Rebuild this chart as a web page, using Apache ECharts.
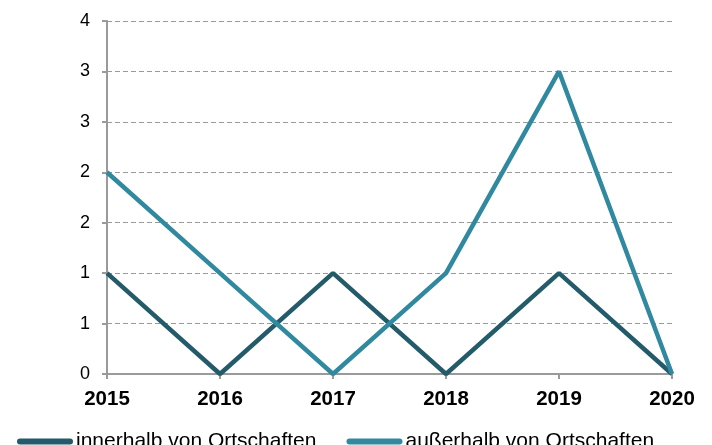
<!DOCTYPE html>
<html>
<head>
<meta charset="utf-8">
<script src="https://cdn.jsdelivr.net/npm/echarts@6/dist/echarts.min.js"></script>
<style>
  html, body { margin: 0; padding: 0; background: #fff; }
  #chart { width: 712px; height: 445px; }
</style>
</head>
<body>
<div id="chart"></div>
<script>
const years = ['2015', '2016', '2017', '2018', '2019', '2020']
const innerhalb = [1, 0, 1, 0, 1, 0]
const ausserhalb = [2, 1, 0, 1, 3, 0]

const chart = echarts.init(document.getElementById('chart'))

// capsule shaped legend marker
const capsule = 'path://M3,0 L53,0 A3,3 0 0 1 53,6 L3,6 A3,3 0 0 1 3,0 Z'

chart.setOption({
  animation: false,
  textStyle: { fontFamily: 'Liberation Sans, Arial, sans-serif' },
  grid: { left: 107, right: 40, top: 21, bottom: 71 },
  legend: {
    left: 12,
    top: 426,
    itemGap: 30,
    itemWidth: 56,
    itemHeight: 6,
    textStyle: { fontSize: 21, color: '#000', padding: [0, 0, 0, -2] },
    data: [
      { name: 'innerhalb von Ortschaften', icon: capsule },
      { name: 'außerhalb von Ortschaften', icon: capsule },
    ],
  },
  xAxis: {
    type: 'category',
    boundaryGap: false,
    data: years,
    axisLine: { lineStyle: { color: '#9a9a9a', width: 2 } },
    axisTick: { show: true, length: 5, lineStyle: { color: '#9a9a9a', width: 2 } },
    axisLabel: { fontSize: 20.5, fontWeight: 'bold', color: '#000', margin: 15 },
    splitLine: { show: false },
  },
  yAxis: {
    type: 'value',
    min: 0,
    max: 3.5,
    interval: 0.5,
    axisLine: { show: true, lineStyle: { color: '#9a9a9a', width: 2 } },
    axisTick: { show: true, length: 5, lineStyle: { color: '#9a9a9a', width: 2 } },
    axisLabel: {
      fontSize: 18,
      color: '#000',
      margin: 17,
      formatter: v => String(Math.round(v)),
    },
    splitLine: {
      show: true,
      lineStyle: { color: '#9a9a9a', width: 1, type: [5, 3] },
    },
  },
  series: [
    {
      name: 'innerhalb von Ortschaften',
      type: 'line',
      data: innerhalb,
      symbol: 'none',
      color: '#245b6b',
      lineStyle: { width: 4.5, color: '#245b6b' },
      z: 2,
    },
    {
      name: 'außerhalb von Ortschaften',
      type: 'line',
      data: ausserhalb,
      symbol: 'none',
      color: '#3189a0',
      lineStyle: { width: 4.5, color: '#3189a0' },
      z: 3,
    },
  ],
})
</script>
</body>
</html>
